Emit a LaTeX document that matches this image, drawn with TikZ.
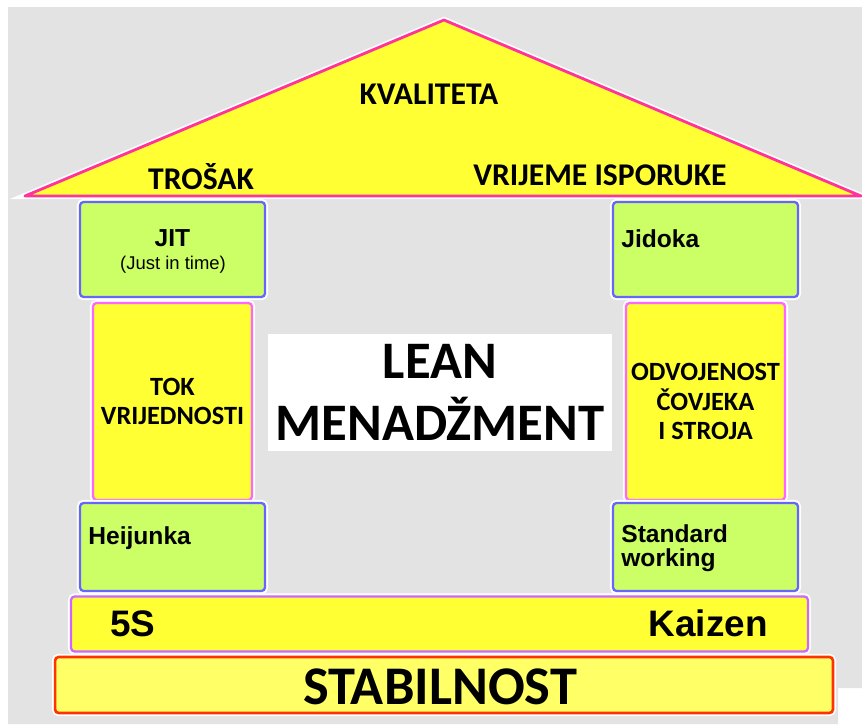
\documentclass[tikz,border=0pt]{standalone}
\usepackage{fontspec}
\setmainfont{Carlito}
\newfontfamily\arialfont{Liberation Sans}
\usepackage{xcolor}
\usetikzlibrary{positioning}

\definecolor{bggray}{HTML}{E3E3E3}
\definecolor{roofyellow}{HTML}{FFFF33}
\definecolor{roofpink}{HTML}{FF3399}
\definecolor{boxgreen}{HTML}{CCFF66}
\definecolor{boxblue}{HTML}{6666FF}
\definecolor{pillarpink}{HTML}{FF66FF}
\definecolor{barviolet}{HTML}{CC66FF}
\definecolor{stabyellow}{HTML}{FFFF66}
\definecolor{stabred}{HTML}{FF3300}

\tikzset{
    halo/.style={preaction={draw=white, line width=3.5pt}},
    greenbox/.style={halo, draw=boxblue, fill=boxgreen, line width=1.3pt, rounded corners=2pt, minimum width=3.7cm, inner sep=0pt},
    pillarbox/.style={halo, draw=pillarpink, fill=roofyellow, line width=1.3pt, rounded corners=2pt, minimum width=3.18cm, minimum height=3.94cm, inner sep=0pt, align=center, font=\fontsize{15pt}{17pt}\selectfont\bfseries},
    rooftext/.style={font=\fontsize{18pt}{20pt}\selectfont\bfseries, inner sep=0pt},
    boxtext/.style={font=\arialfont\fontsize{14pt}{13.5pt}\selectfont\bfseries, inner sep=0pt, align=left},
    bartext/.style={font=\arialfont\fontsize{21pt}{24pt}\selectfont\bfseries, inner sep=0pt}
}

\begin{document}
\begin{tikzpicture}[x=0.02cm, y=-0.02cm]
        \useasboundingbox (0,0) rectangle (862,724);
        \fill[white] (0,0) rectangle (862,724);
        % pozadina
        \fill[bggray] (8,7) -- (862,7) -- (862,688) -- (838,688) -- (838,724) -- (8,724) -- cycle;

        % krov
        \coordinate (roofL) at (25,196);
        \coordinate (roofT) at (444,20);
        \coordinate (roofR) at (861,196);
        \draw[halo, draw=roofpink, fill=roofyellow, line width=1.6pt, line join=round] (roofL) -- (roofT) -- (roofR) -- cycle;
        \node[rooftext] (kvaliteta) at (429,94) {KVALITETA};
        \node[rooftext] (trosak) at (201,177) {TROŠAK};
        \node[rooftext] (isporuka) at (600,175) {VRIJEME ISPORUKE};

        % lijevi stup
        \node[greenbox, minimum height=1.9cm] (jit) at (172.5,249.5) {};
        \node[boxtext, align=center] (jitT) at (172.5,238.5) {JIT};
        \node[font=\arialfont\fontsize{10.5pt}{12pt}\selectfont, inner sep=0pt] (jitS) at (173,265) {(Just in time)};
        \node[pillarbox] (tok) at (172.5,401.5) {TOK\\VRIJEDNOSTI};
        \node[greenbox, minimum height=1.76cm] (heijunka) at (172.5,547) {};
        \node[boxtext, anchor=west] (heijunkaT) at (88,538) {Heijunka};

        % desni stup
        \node[greenbox, minimum height=1.9cm] (jidoka) at (705.5,249.5) {};
        \node[boxtext, anchor=west] (jidokaT) at (621,239) {Jidoka};
        \node[pillarbox] (odvojenost) at (705.5,401.5) {ODVOJENOST\\ČOVJEKA\\I STROJA};
        \node[greenbox, minimum height=1.76cm] (standard) at (705.5,547) {};
        \node[boxtext, anchor=west] (standardT) at (621,548) {Standard\\working};

        % sredina
        \node[fill=white, minimum width=6.88cm, minimum height=2.36cm, inner sep=0pt, align=center,
              font=\fontsize{30pt}{35pt}\selectfont\bfseries] (lean) at (440,392.5) {LEAN\\MENADŽMENT};

        % temelj
        \node[halo, draw=barviolet, fill=roofyellow, line width=1.3pt, rounded corners=2pt,
              minimum width=14.74cm, minimum height=1.1cm, inner sep=0pt] (kaizenbar) at (439.5,624) {};
        \node[bartext, anchor=west] (fiveS) at (110,623.5) {5S};
        \node[bartext, anchor=east] (kaizen) at (768,623.5) {Kaizen};
        \node[halo, draw=stabred, fill=stabyellow, line width=1.5pt, rounded corners=2pt,
              minimum width=15.56cm, minimum height=1.12cm, inner sep=0pt] (stabilnost) at (444,685) {};
        \node[font=\fontsize{31pt}{33pt}\selectfont\bfseries, inner sep=0pt] (stabT) at (440,687) {STABILNOST};
    \end{tikzpicture}
\end{document}
